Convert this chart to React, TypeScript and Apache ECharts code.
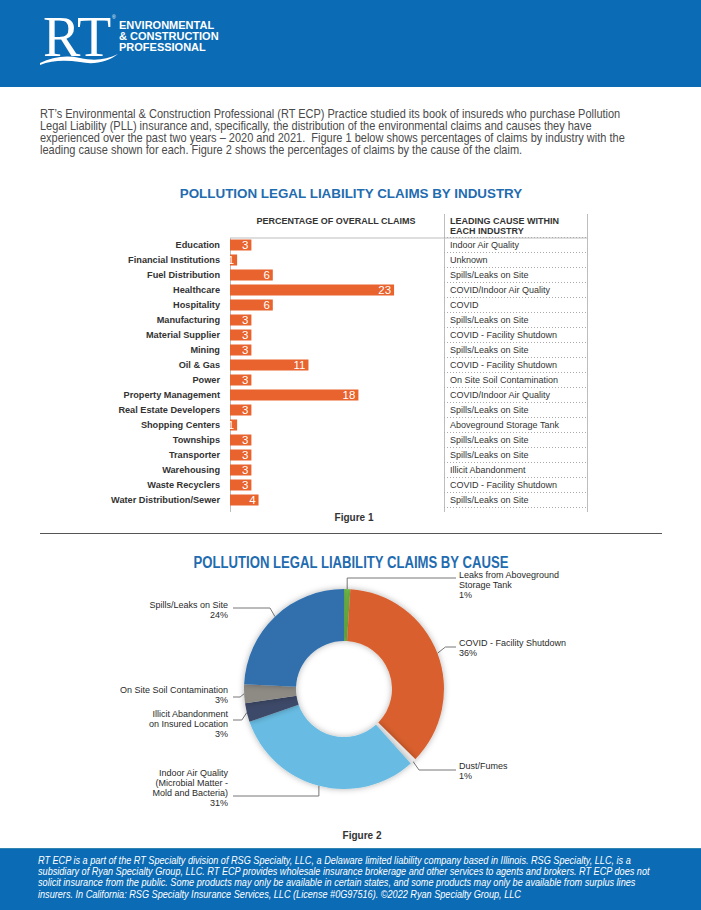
import React, { useEffect, useRef } from 'react';
import * as echarts from 'echarts';

const industries = [
  'Education', 'Financial Institutions', 'Fuel Distribution', 'Healthcare', 'Hospitality',
  'Manufacturing', 'Material Supplier', 'Mining', 'Oil & Gas', 'Power', 'Property Management',
  'Real Estate Developers', 'Shopping Centers', 'Townships', 'Transporter', 'Warehousing',
  'Waste Recyclers', 'Water Distribution/Sewer',
];
const industryShares = [3, 1, 6, 23, 6, 3, 3, 3, 11, 3, 18, 3, 1, 3, 3, 3, 3, 4];
const leadingCauses = [
  'Indoor Air Quality', 'Unknown', 'Spills/Leaks on Site', 'COVID/Indoor Air Quality', 'COVID',
  'Spills/Leaks on Site', 'COVID - Facility Shutdown', 'Spills/Leaks on Site', 'COVID - Facility Shutdown',
  'On Site Soil Contamination', 'COVID/Indoor Air Quality', 'Spills/Leaks on Site', 'Aboveground Storage Tank',
  'Spills/Leaks on Site', 'Spills/Leaks on Site', 'Illicit Abandonment', 'COVID - Facility Shutdown',
  'Spills/Leaks on Site',
];

const causeNames = [
  'Leaks from Aboveground Storage Tank', 'COVID - Facility Shutdown', 'Dust/Fumes',
  'Indoor Air Quality (Microbial Matter - Mold and Bacteria)', 'Illicit Abandonment on Insured Location',
  'On Site Soil Contamination', 'Spills/Leaks on Site',
];
const causeLabels = [
  'Leaks from Aboveground\nStorage Tank', 'COVID - Facility Shutdown', 'Dust/Fumes',
  'Indoor Air Quality\n(Microbial Matter -\nMold and Bacteria)', 'Illicit Abandonment\non Insured Location',
  'On Site Soil Contamination', 'Spills/Leaks on Site',
];
const causeShares = [1, 36, 1, 31, 3, 3, 24];
const causeColors = ['#72bf4c', '#d9612f', '#ececec', '#68bce3', '#3d4967', '#8e8b85', '#3170ad'];

const introLines = [
  'RT\u2019s Environmental & Construction Professional (RT ECP) Practice studied its book of insureds who purchase Pollution',
  'Legal Liability (PLL) insurance and, specifically, the distribution of the environmental claims and causes they have',
  'experienced over the past two years \u2013 2020 and 2021.  Figure 1 below shows percentages of claims by industry with the',
  'leading cause shown for each. Figure 2 shows the percentages of claims by the cause of the claim.',
];
const footerLines = [
  'RT ECP is a part of the RT Specialty division of RSG Specialty, LLC, a Delaware limited liability company based in Illinois. RSG Specialty, LLC, is a',
  'subsidiary of Ryan Specialty Group, LLC. RT ECP provides wholesale insurance brokerage and other services to agents and brokers. RT ECP does not',
  'solicit insurance from the public. Some products may only be available in certain states, and some products may only be available from surplus lines',
  'insurers. In California: RSG Specialty Insurance Services, LLC (License #0G97516). \u00a92022 Ryan Specialty Group, LLC',
];

// label layout (pixel placement of pie labels)
const PIE_LABEL_LAYOUT = [
  { x: 459, y: 570, align: 'left', dx: 0, lineY: 578, endX: 456 },
  { x: 459, y: 638, align: 'left', dx: 8, lineY: 647, endX: 456 },
  { x: 459, y: 761, align: 'left', dx: 6, lineY: 770, endX: 456 },
  { x: 228, y: 768, align: 'right', dx: 0, lineY: 796, endX: 233 },
  { x: 228, y: 709, align: 'right', dx: -5, lineY: 720, endX: 233 },
  { x: 228, y: 685, align: 'right', dx: -4, lineY: 697, endX: 233 },
  { x: 228, y: 600, align: 'right', dx: -5, lineY: 608, endX: 233 },
];

const SANS = '"Liberation Sans", Arial, Helvetica, sans-serif';

function txt(text: string, x: number, y: number, opts: any = {}) {
  const align = opts.align || 'left';
  const vAlign = opts.verticalAlign || 'middle';
  return {
    type: 'text',
    x,
    y,
    scaleX: opts.scaleX || 1,
    style: {
      text,
      fill: opts.fill || '#333',
      fontSize: opts.fontSize || 10,
      fontWeight: opts.fontWeight || 'normal',
      fontStyle: opts.fontStyle || 'normal',
      fontFamily: opts.fontFamily || SANS,
      align,
      verticalAlign: vAlign,
      textAlign: align,
      textVerticalAlign: vAlign,
    },
  };
}

export default function App() {
  const ref = useRef<HTMLDivElement>(null);

  useEffect(() => {
    if (!ref.current) return;
    echarts.graphic.registerShape(
      'swoosh',
      echarts.graphic.extendPath(
        'M0 9 C 12 3 26 1 40 4 C 54 7 66 6 78 0 C 68 8 54 11 40 8 C 26 6 12 6 0 11 Z',
        {}
      )
    );
    const chart = echarts.init(ref.current, null, { renderer: 'svg' });

    const graphic: any[] = [
      { type: 'rect', shape: { x: 0, y: 0, width: 701, height: 87 }, style: { fill: '#0b6bb4' } },
      txt('RT', 43, 37, { fill: '#fff', fontSize: 56, fontFamily: '"Liberation Serif", "DejaVu Serif", serif' }),
      txt('\u00ae', 112, 17, { fill: '#fff', fontSize: 5 }),
      { type: 'swoosh', x: 40, y: 54, scaleX: 1, scaleY: 1, style: { fill: '#fff' } },
      txt('ENVIRONMENTAL', 119, 25, { fill: '#fff', fontSize: 11, fontWeight: 'bold' }),
      txt('& CONSTRUCTION', 119, 36, { fill: '#fff', fontSize: 11, fontWeight: 'bold' }),
      txt('PROFESSIONAL', 119, 47, { fill: '#fff', fontSize: 11, fontWeight: 'bold' }),
      ...introLines.map((l, i) => txt(l, 40, 113 + i * 12, { fill: '#4a4a4a', fontSize: 12.5, scaleX: 0.88 })),
      txt('POLLUTION LEGAL LIABILITY CLAIMS BY INDUSTRY', 351, 193, { align: 'center', fill: '#1f6cb0', fontSize: 13.4, fontWeight: 'bold' }),
      txt('PERCENTAGE OF OVERALL CLAIMS', 336, 221, { align: 'center', fontSize: 9, fontWeight: 'bold' }),
      txt('LEADING CAUSE WITHIN', 450, 221, { fontSize: 9, fontWeight: 'bold' }),
      txt('EACH INDUSTRY', 450, 231, { fontSize: 9, fontWeight: 'bold' }),
      { type: 'line', shape: { x1: 230, y1: 238, x2: 587, y2: 238 }, style: { stroke: '#bdbdbd', lineWidth: 1 } },
      { type: 'line', shape: { x1: 230.5, y1: 238, x2: 230.5, y2: 512 }, style: { stroke: '#bdbdbd', lineWidth: 1 } },
      { type: 'line', shape: { x1: 444.5, y1: 214, x2: 444.5, y2: 512 }, style: { stroke: '#bdbdbd', lineWidth: 1 } },
      { type: 'line', shape: { x1: 587.5, y1: 214, x2: 587.5, y2: 512 }, style: { stroke: '#bdbdbd', lineWidth: 1 } },
      txt('Figure 1', 354, 517, { align: 'center', fontSize: 10, fontWeight: 'bold' }),
      { type: 'line', shape: { x1: 40, y1: 533.5, x2: 662, y2: 533.5 }, style: { stroke: '#555', lineWidth: 1 } },
      txt('POLLUTION LEGAL LIABILITY CLAIMS BY CAUSE', 351, 563, { align: 'center', fill: '#1f6cb0', fontSize: 16, fontWeight: 'bold', scaleX: 0.82 }),
      txt('Figure 2', 362, 835, { align: 'center', fontSize: 10, fontWeight: 'bold' }),
      { type: 'rect', shape: { x: 0, y: 848, width: 701, height: 62 }, style: { fill: '#0b6bb4' } },
      { type: 'line', shape: { x1: 0, y1: 848.5, x2: 701, y2: 848.5 }, style: { stroke: '#2f86b0', lineWidth: 1 } },
      ...footerLines.map((l, i) => txt(l, 38, 860 + i * 11.3, { fill: '#fff', fontSize: 10.5, fontStyle: 'italic', scaleX: 0.87 })),
    ];

    const option: any = {
      animation: false,
      backgroundColor: '#ffffff',
      textStyle: { fontFamily: SANS },
      grid: [
        { left: 230, top: 237.5, width: 214, height: 270 },
        { left: 444, top: 237.5, width: 143, height: 270 },
      ],
      xAxis: [
        { type: 'value', gridIndex: 0, min: 0, max: 30, show: false },
        { type: 'value', gridIndex: 1, min: 0, max: 1, show: false },
      ],
      yAxis: [
        {
          type: 'category', gridIndex: 0, inverse: true, data: industries,
          axisLine: { show: false }, axisTick: { show: false }, splitLine: { show: false },
          axisLabel: { interval: 0, fontSize: 9.2, fontWeight: 'bold', color: '#333', margin: 10 },
        },
        {
          type: 'category', gridIndex: 1, inverse: true, data: leadingCauses,
          axisLine: { show: false }, axisTick: { show: false },
          axisLabel: { interval: 0, inside: true, margin: 6, fontSize: 9, color: '#333' },
          splitLine: { show: true, interval: 0, lineStyle: { type: [1, 2], color: '#aaaaaa', width: 1 } },
        },
      ],
      series: [
        {
          type: 'bar', xAxisIndex: 0, yAxisIndex: 0, data: industryShares, barWidth: 11,
          itemStyle: { color: '#e8632d' },
          label: { show: true, position: 'insideRight', distance: 3, color: '#fff', fontSize: 11.5 },
        },
        {
          type: 'pie', center: [344, 689], radius: [48, 100], startAngle: 90, clockwise: true,
          avoidLabelOverlap: false,
          data: causeNames.map((n, i) => ({ name: n, value: causeShares[i], itemStyle: { color: causeColors[i] } })),
          itemStyle: { shadowBlur: 6, shadowColor: 'rgba(0,0,0,0.3)' },
          label: {
            show: true, fontSize: 9, lineHeight: 10, color: '#2a2a2a',
            formatter: (p: any) => causeLabels[p.dataIndex] + '\n' + p.value + '%',
          },
          labelLine: { show: true, lineStyle: { color: '#777', width: 1 } },
          labelLayout: (params: any) => {
            const L = PIE_LABEL_LAYOUT[params.dataIndex];
            const p0 = params.labelLinePoints ? params.labelLinePoints[0] : [L.endX, L.lineY];
            return {
              x: L.x, y: L.y, align: L.align, verticalAlign: 'top',
              labelLinePoints: [p0, [p0[0] + L.dx, L.lineY], [L.endX, L.lineY]],
            };
          },
          emphasis: { disabled: true },
        },
      ],
      graphic,
    };

    chart.setOption(option);
    return () => chart.dispose();
  }, []);

  return (
    <div
      ref={ref}
      style={{ position: 'fixed', left: 0, top: 0, width: 701, height: 910, background: '#fff' }}
    />
  );
}
